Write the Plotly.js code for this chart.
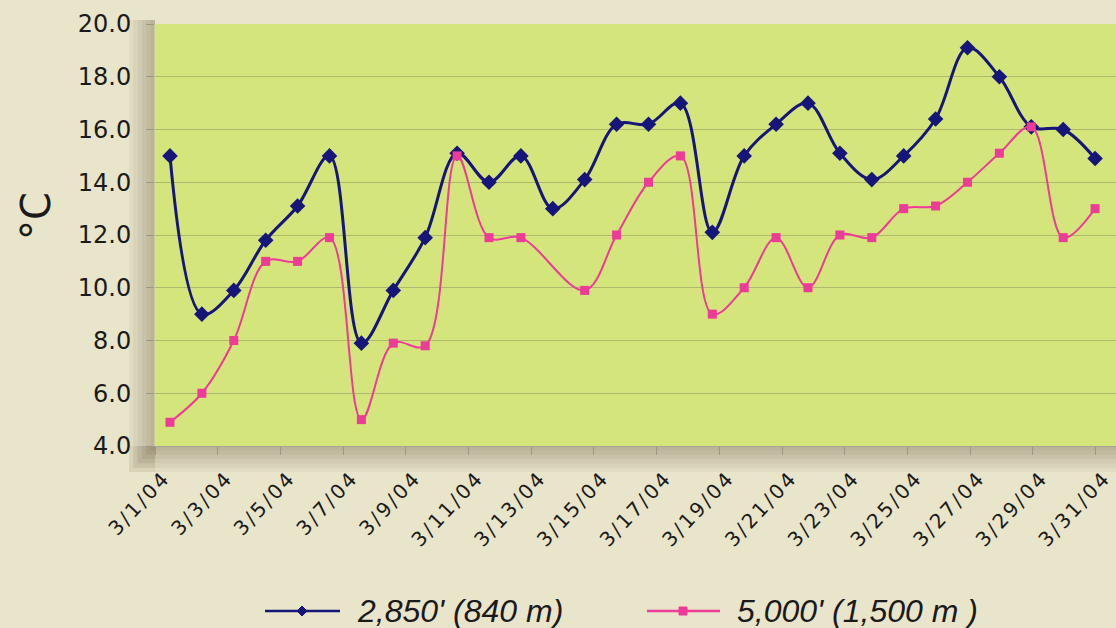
<!DOCTYPE html>
<html>
<head>
<meta charset="utf-8">
<script src="https://cdn.plot.ly/plotly-3.0.1.min.js"></script>
<style>
  html, body { margin: 0; padding: 0; background: #e9e5cb; overflow: hidden; }
  #chart { width: 1116px; height: 628px; }
  .xtick text { letter-spacing: 2.5px; }
</style>
</head>
<body>
<div id="chart"></div>
<script>
// ---- data ----
const seriesNames = ["2,850' (840 m)", "5,000' (1,500 m )"];
const readingIndex = [0,1,2,3,4,5,6,7,8,9,10,11,12,13,14,15,16,17,18,19,20,21,22,23,24,25,26,27,28,29];
const temp2850 = [15.0, 9.0, 9.9, 11.8, 13.1, 15.0, 7.9, 9.9, 11.9, 15.1,
                  14.0, 15.0, 13.0, 14.1, 16.2, 16.2, 17.0, 12.1, 15.0, 16.2,
                  17.0, 15.1, 14.1, 15.0, 16.4, 19.1, 18.0, 16.1, 16.0, 14.9];
const temp5000 = [4.9, 6.0, 8.0, 11.0, 11.0, 11.9, 5.0, 7.9, 7.8, 15.0,
                  11.9, 11.9, null, 9.9, 12.0, 14.0, 15.0, 9.0, 10.0, 11.9,
                  10.0, 12.0, 11.9, 13.0, 13.1, 14.0, 15.1, 16.1, 11.9, 13.0];
const dateLabels = ["3/1/04","3/3/04","3/5/04","3/7/04","3/9/04","3/11/04","3/13/04","3/15/04",
                    "3/17/04","3/19/04","3/21/04","3/23/04","3/25/04","3/27/04","3/29/04","3/31/04"];
const yTicks = [4, 6, 8, 10, 12, 14, 16, 18, 20];
const yTitle = '°C';

// ---- layout geometry ----
const W = 1116, H = 628;
const M = {l: 155, r: 0, t: 24, b: 182};
const plotW = W - M.l - M.r, plotH = H - M.t - M.b;
const xLeft = -0.47, stepPx = 31.9;
const xRight = xLeft + plotW / stepPx;
const tickStep = 62.7 / stepPx;            // two-day label spacing in reading units
const tickPos = dateLabels.map((_, k) => xLeft + k * tickStep);

const px = v => (v - M.l) / plotW;          // pixel -> paper x
const py = v => (H - M.b - v) / plotH;      // pixel -> paper y

const blue = '#15157a', pink = '#ee3a98';

const traces = [
  {x: readingIndex, y: temp2850, name: seriesNames[0], type: 'scatter', mode: 'lines+markers',
   line: {color: blue, width: 3, shape: 'spline', smoothing: 1},
   marker: {symbol: 'diamond', size: 12, color: blue}, showlegend: false},
  {x: readingIndex, y: temp5000, name: seriesNames[1], type: 'scatter', mode: 'lines+markers',
   connectgaps: true,
   line: {color: pink, width: 2, shape: 'spline', smoothing: 1},
   marker: {symbol: 'square', size: 9, color: pink}, showlegend: false}
];

// shadow around the plot area
const shapes = [];
for (let k = 0; k < 6; k++) {
  const e = 26 * (1 - k / 6);
  shapes.push({type: 'rect', xref: 'paper', yref: 'paper', layer: 'below',
    x0: px(M.l - e), x1: px(M.l), y0: py(H - M.b + e), y1: py(M.t - 4),
    line: {width: 0}, fillcolor: 'rgba(110,100,70,0.07)'});
  shapes.push({type: 'rect', xref: 'paper', yref: 'paper', layer: 'below',
    x0: px(M.l - e), x1: 1, y0: py(H - M.b + e), y1: py(H - M.b),
    line: {width: 0}, fillcolor: 'rgba(110,100,70,0.07)'});
}
// custom legend (long line samples)
const leg = [
  {x0: 265, x1: 340, mx: 302, color: blue, sym: 'diamond', tx: 355, text: seriesNames[0]},
  {x0: 647, x1: 720, mx: 683, color: pink, sym: 'square', tx: 735, text: seriesNames[1]}
];
const legY = 611;
const annotations = [];
leg.forEach(L => {
  shapes.push({type: 'line', xref: 'paper', yref: 'paper', x0: px(L.x0), x1: px(L.x1),
    y0: py(legY), y1: py(legY), line: {color: L.color, width: 2.5}});
  if (L.sym === 'diamond') {
    const s = 5;
    shapes.push({type: 'path', xref: 'paper', yref: 'paper',
      path: `M${px(L.mx)},${py(legY - s)} L${px(L.mx + s)},${py(legY)} L${px(L.mx)},${py(legY + s)} L${px(L.mx - s)},${py(legY)} Z`,
      fillcolor: L.color, line: {color: L.color, width: 1}});
  } else {
    const s = 4;
    shapes.push({type: 'rect', xref: 'paper', yref: 'paper',
      x0: px(L.mx - s), x1: px(L.mx + s), y0: py(legY + s), y1: py(legY - s),
      fillcolor: L.color, line: {color: L.color, width: 1}});
  }
  annotations.push({xref: 'paper', yref: 'paper', x: px(L.tx), y: py(legY), xanchor: 'left', yanchor: 'middle',
    showarrow: false, text: '<i>' + L.text + '</i>',
    font: {family: 'Liberation Sans, Arial, sans-serif', size: 32, color: '#1a1a1a'}});
});
// y axis title, rotated
annotations.push({xref: 'paper', yref: 'paper', x: px(36), y: py(216), xanchor: 'center', yanchor: 'middle',
  showarrow: false, text: yTitle, textangle: -90,
  font: {family: 'DejaVu Sans, sans-serif', size: 40, color: '#1a1a1a'}});

const layout = {
  width: W, height: H,
  margin: M,
  paper_bgcolor: '#e9e5cb',
  plot_bgcolor: '#d4e57c',
  font: {family: 'DejaVu Sans, sans-serif', color: '#1a1a1a'},
  showlegend: false,
  xaxis: {
    range: [xLeft, xRight], tickmode: 'array', tickvals: tickPos, ticktext: dateLabels,
    tickangle: -47, ticks: 'outside', ticklen: 8, tickcolor: '#9a9882', tickwidth: 1,
    ticklabelshift: 9, ticklabelstandoff: 3, ticklabeloverflow: 'allow',
    tickfont: {size: 20, color: '#1a1a1a'},
    showgrid: false, zeroline: false, showline: true, linecolor: '#a8a690', linewidth: 1,
    automargin: false, fixedrange: true
  },
  yaxis: {
    range: [4, 20], tickmode: 'array', tickvals: yTicks, ticktext: yTicks.map(v => v.toFixed(1)),
    ticks: 'outside', ticklen: 8, tickcolor: '#9a9882', ticklabelstandoff: 10,
    tickfont: {size: 24, color: '#1a1a1a'},
    showgrid: true, gridcolor: '#adb86e', gridwidth: 1, zeroline: false,
    showline: true, linecolor: '#c8cc9a', mirror: true,
    automargin: false, fixedrange: true
  },
  shapes: shapes,
  annotations: annotations
};

Plotly.newPlot('chart', traces, layout, {displayModeBar: false, staticPlot: true});
</script>
</body>
</html>
